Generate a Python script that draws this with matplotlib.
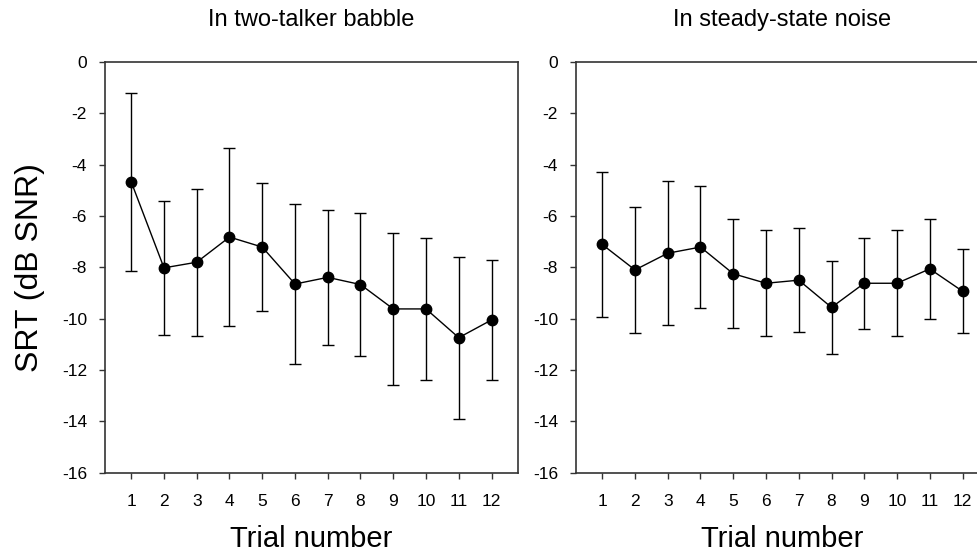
import matplotlib

matplotlib.use("Agg")
import matplotlib.pyplot as plt
import numpy as np

plt.rcParams["font.family"] = ["Liberation Sans", "DejaVu Sans"]
plt.rcParams["axes.unicode_minus"] = False

trials = np.arange(1, 13)

# two-talker babble: mean SRT and SD (dB SNR)
babble_mean = [-4.67, -8.02, -7.80, -6.82, -7.21, -8.65, -8.39, -8.67, -9.62, -9.62, -10.74, -10.05]
babble_sd = [3.47, 2.61, 2.87, 3.45, 2.50, 3.10, 2.62, 2.80, 2.95, 2.77, 3.16, 2.35]

# steady-state noise
steady_mean = [-7.11, -8.10, -7.45, -7.21, -8.25, -8.62, -8.50, -9.56, -8.62, -8.62, -8.06, -8.93]
steady_sd = [2.83, 2.45, 2.81, 2.39, 2.13, 2.07, 2.03, 1.80, 1.78, 2.06, 1.96, 1.63]

titles = ["In two-talker babble", "In steady-state noise"]
yticks = np.arange(-16, 1, 2)

fig = plt.figure(figsize=(9.77, 5.59), dpi=100)
ax1 = fig.add_axes([0.1075, 0.1544, 0.4224, 0.7347])
ax2 = fig.add_axes([0.5896, 0.1544, 0.4224, 0.7347])

for ax, mean, sd, title in [(ax1, babble_mean, babble_sd, titles[0]),
                            (ax2, steady_mean, steady_sd, titles[1])]:
    ax.errorbar(trials, mean, yerr=sd, fmt="o-", color="black", ms=7.5,
                lw=1.0, elinewidth=1.0, capsize=4.2, capthick=1.0)
    ax.set_xlim(0.2, 12.8)
    ax.set_ylim(-16, 0)
    ax.set_xticks(trials)
    ax.set_yticks(yticks)
    ax.tick_params(axis="x", direction="out", length=4, width=1, pad=11,
                   labelsize=12.5, color="#333333")
    ax.tick_params(axis="y", direction="out", length=4, width=1, pad=9,
                   labelsize=12.5, color="#333333")
    for s in ax.spines.values():
        s.set_linewidth(1.2)
        s.set_color("#333333")
    ax.set_title(title, fontsize=17, pad=26)
    ax.set_xlabel("Trial number", fontsize=21, labelpad=12)

ax1.set_ylabel("SRT (dB SNR)", fontsize=23, labelpad=12)

fig.savefig("out.png", dpi=100)
